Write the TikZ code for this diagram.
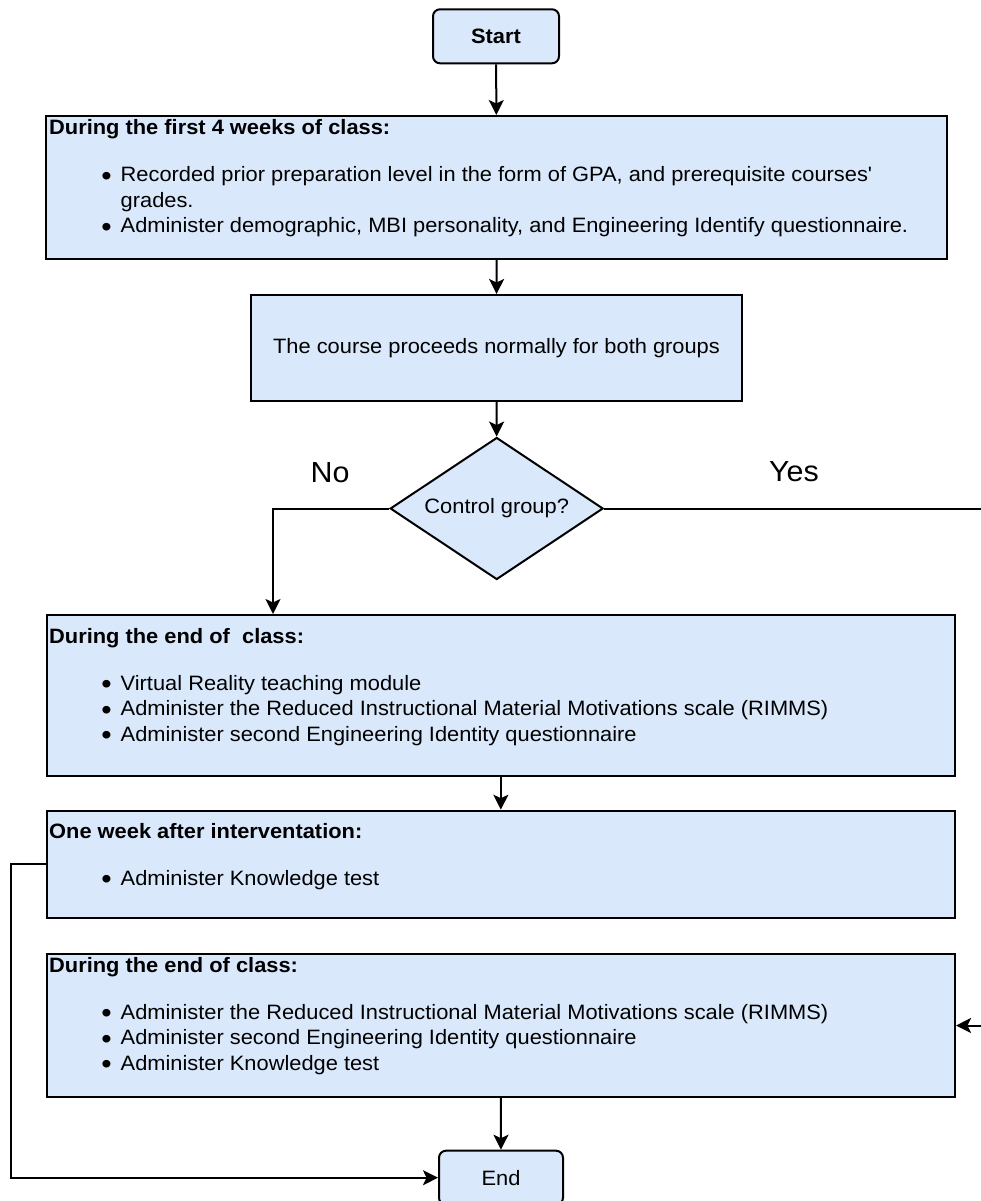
\documentclass[tikz,border=0pt]{standalone}
\usepackage{fontspec}
\setmainfont{Liberation Sans}[FakeStretch=1.05]
\usetikzlibrary{arrows.meta,shapes.geometric}
\definecolor{boxblue}{HTML}{DAE8FC}
\def\bul{\makebox[10pt]{\raisebox{-3.5pt}{\scalebox{1.35}{\textbullet}}}}
\def\bigfont{\fontsize{29}{34}\selectfont}
\tikzset{
	box/.style={draw=black, fill=boxblue, line width=2pt, rectangle, inner sep=0pt},
	rbox/.style={box, rounded corners=7pt},
	txt/.style={anchor=base west, inner sep=0pt},
	arr/.style={line width=2pt, -{Stealth[length=15pt, width=15pt, inset=3.5pt]}},
}

\begin{document}
\begin{tikzpicture}[x=1pt, y=-1pt, font=\fontsize{20.8}{25.5}\selectfont]
			%%%%% START %%%%%
			\useasboundingbox (0, 0) rectangle (980, 1201);
			
			\node[rbox, minimum width=126, minimum height=54] (start) at (496, 36.3) {\bfseries Start};
			
			\node[box, minimum width=900.5, minimum height=143] (first) at (496.7, 187.5) {};
			\node[txt] (firstTxt) at (49, 135) {\begin{tabular}[t]{@{\hspace{52.3pt}}c@{\hspace{9.2pt}}l@{}}
					\multicolumn{2}{@{}l@{}}{\bfseries During the first 4 weeks of class:}\\[21.5pt]
					\bul & Recorded prior preparation level in the form of GPA, and prerequisite courses\textquotesingle\\
					& grades.\\
					\bul & Administer demographic, MBI personality, and Engineering Identify questionnaire.
				\end{tabular}};
			
			\node[box, minimum width=491, minimum height=106] (course) at (496.5, 348) {The course proceeds normally for both groups};
			
			\node[box, diamond, aspect=1.5, minimum width=213, minimum height=142] (ctrl) at (496.7, 508.5) {Control group?};
			\node[inner sep=0pt, font=\bigfont] (noLbl) at (330, 473) {No};
			\node[inner sep=0pt, font=\bigfont] (yesLbl) at (794, 472) {Yes};
			
			\node[box, minimum width=908.3, minimum height=161] (during) at (500.85, 695.5) {};
			\node[txt] (duringTxt) at (49, 643) {\begin{tabular}[t]{@{\hspace{52.3pt}}c@{\hspace{9.2pt}}l@{}}
					\multicolumn{2}{@{}l@{}}{\bfseries During the end of\ \ class:}\\[21.5pt]
					\bul & Virtual Reality teaching module\\
					\bul & Administer the Reduced Instructional Material Motivations scale (RIMMS)\\
					\bul & Administer second Engineering Identity questionnaire
				\end{tabular}};
			
			\node[box, minimum width=908.3, minimum height=107.3] (week) at (500.85, 864.35) {};
			\node[txt] (weekTxt) at (49, 838) {\begin{tabular}[t]{@{\hspace{52.3pt}}c@{\hspace{9.2pt}}l@{}}
					\multicolumn{2}{@{}l@{}}{\bfseries One week after interventation:}\\[21.5pt]
					\bul & Administer Knowledge test
				\end{tabular}};
			
			\node[box, minimum width=908.3, minimum height=143] (final) at (500.85, 1025.5) {};
			\node[txt] (finalTxt) at (49, 972) {\begin{tabular}[t]{@{\hspace{52.3pt}}c@{\hspace{9.2pt}}l@{}}
					\multicolumn{2}{@{}l@{}}{\bfseries During the end of class:}\\[21.5pt]
					\bul & Administer the Reduced Instructional Material Motivations scale (RIMMS)\\
					\bul & Administer second Engineering Identity questionnaire\\
					\bul & Administer Knowledge test
				\end{tabular}};
			
			\node[rbox, minimum width=124, minimum height=54] (end) at (501, 1177.7) {End};
			
			%%%%% CONNECTORS %%%%%
			\coordinate (noTurn) at (273, 508.5);
			\coordinate (yesTurn) at (1000, 508.5);
			\coordinate (weekTurn) at (11, 864.35);
			
			\draw[arr] (start) -- (first);
			\draw[arr] (first) -- (course);
			\draw[arr] (course) -- (ctrl);
			\draw[arr] (ctrl.west) -- (noTurn) -- (noTurn |- during.north);
			\draw[arr] (ctrl.east) -- (yesTurn) |- (final.east);
			\draw[arr] (during) -- (week);
			\draw[arr] (week.west) -- (weekTurn) |- (end.west);
			\draw[arr] (final) -- (end);
			
			%%%%% END %%%%%
\end{tikzpicture}
\end{document}
